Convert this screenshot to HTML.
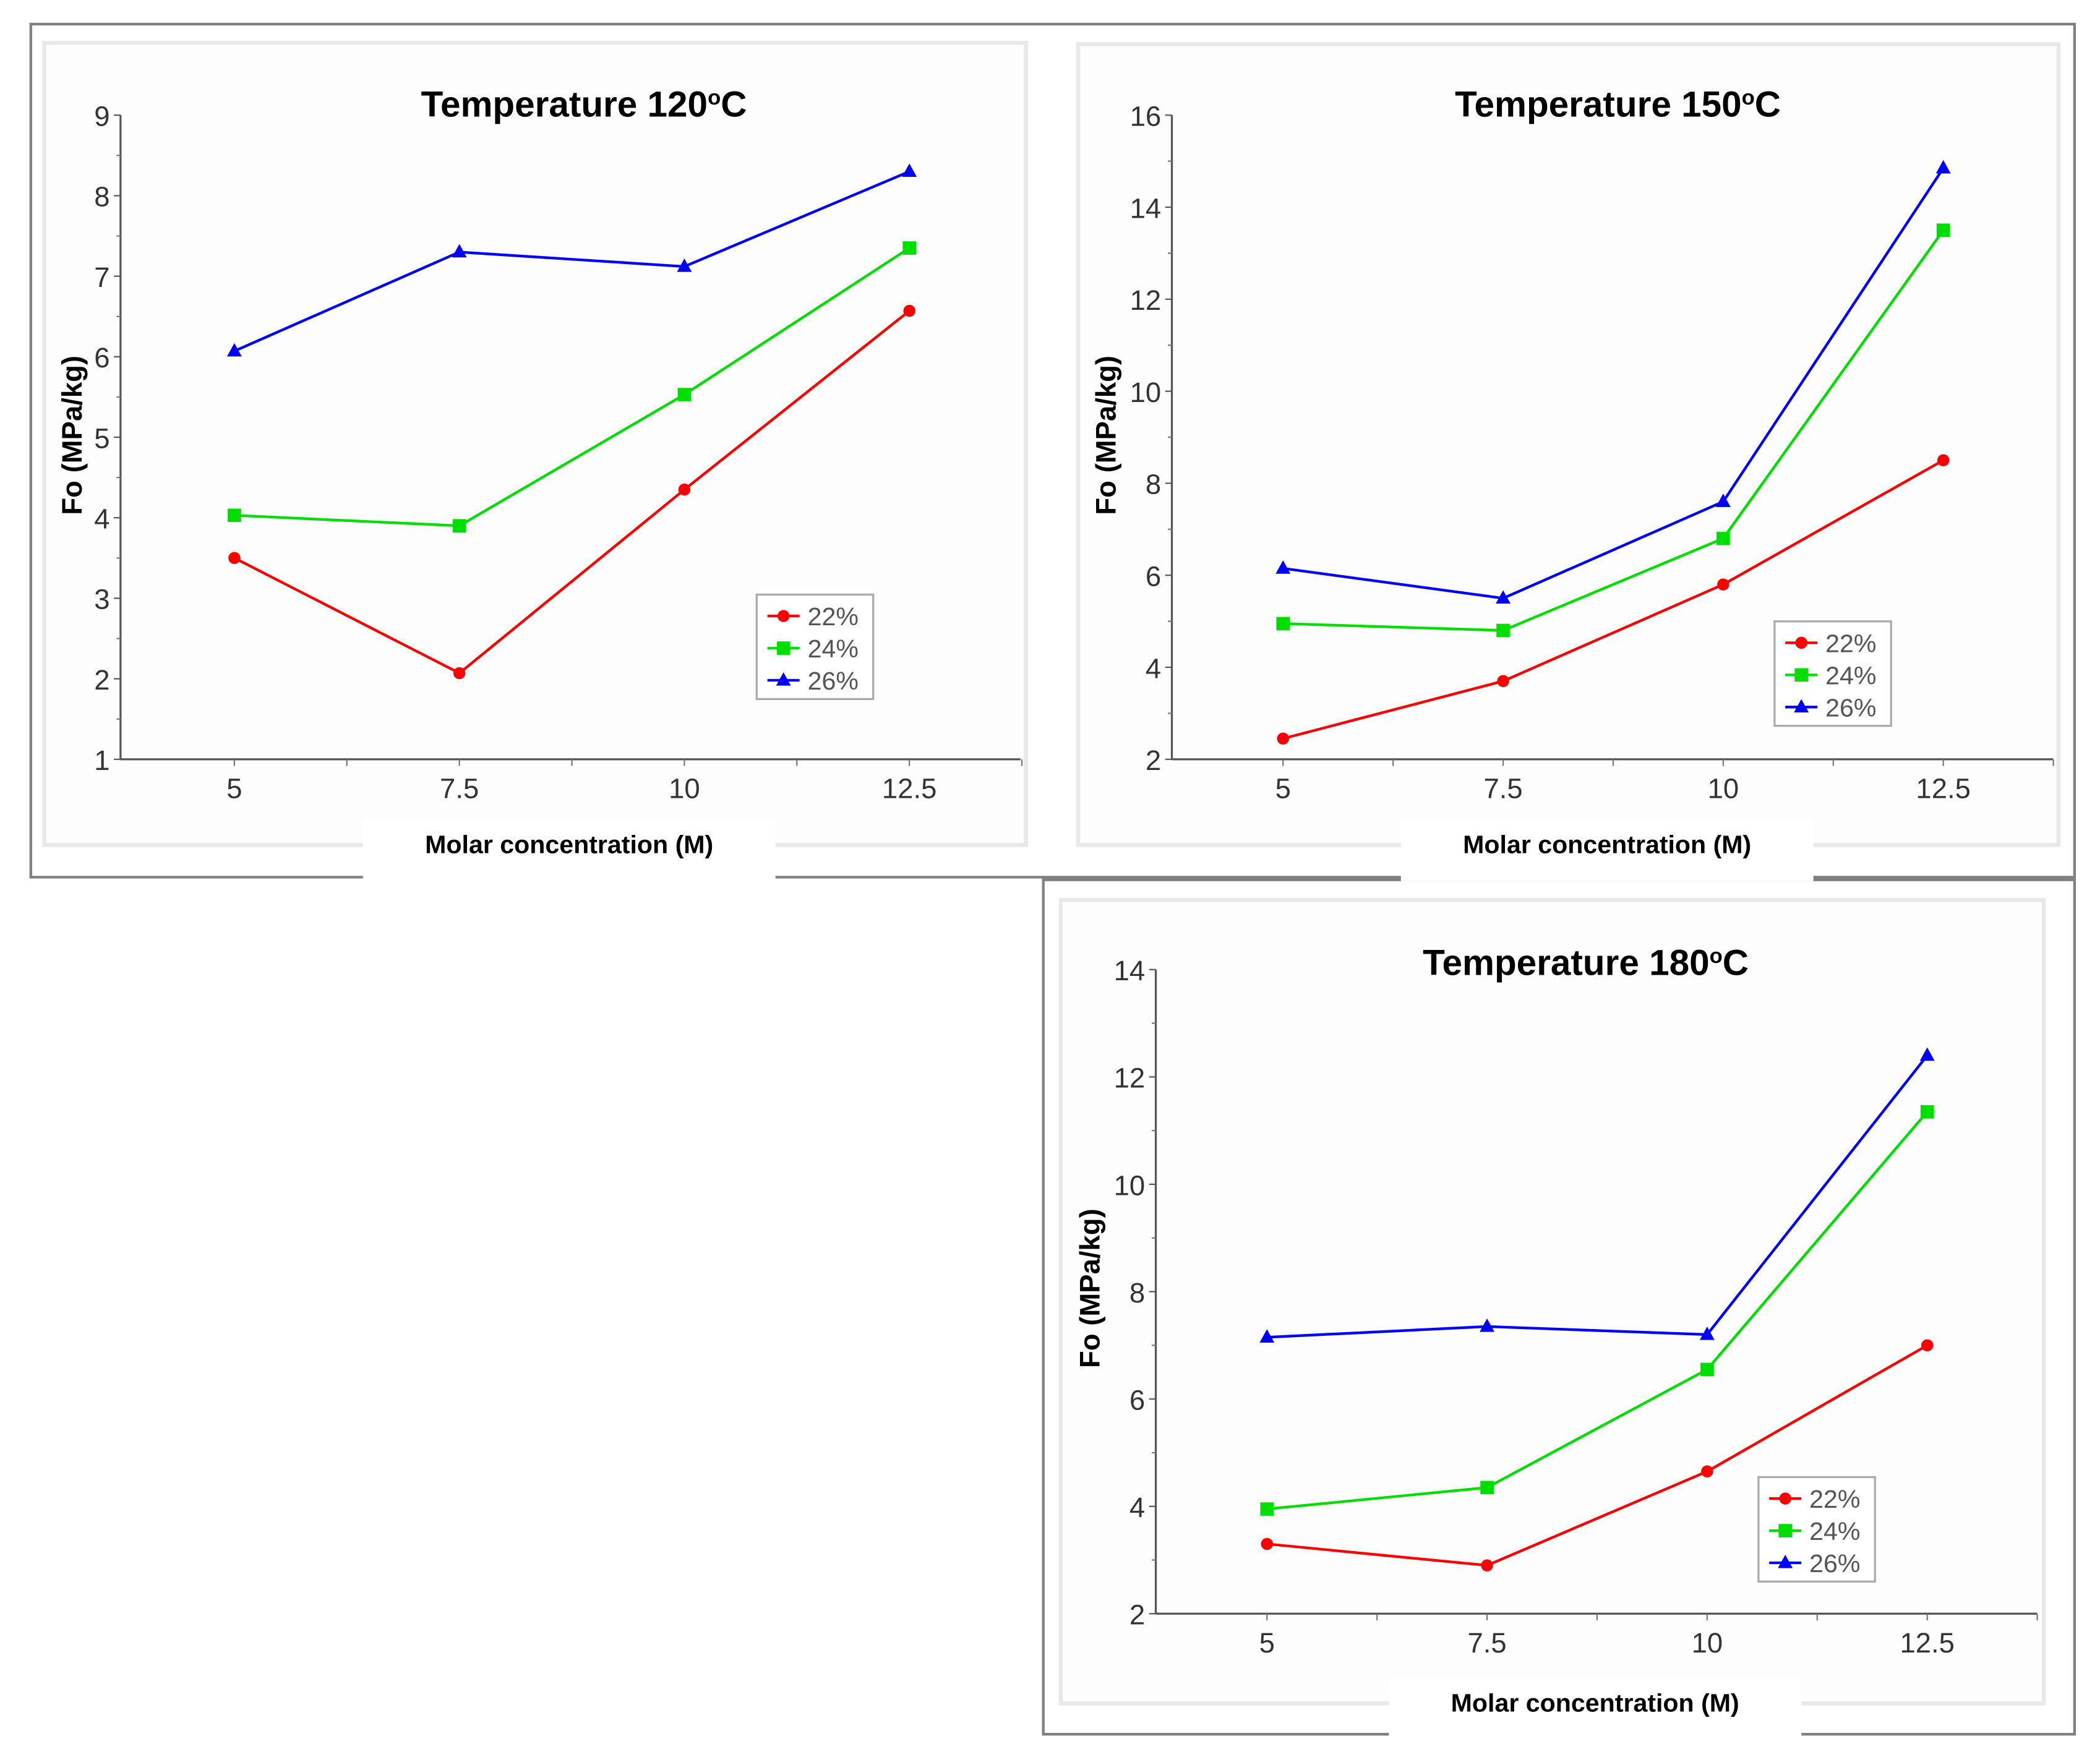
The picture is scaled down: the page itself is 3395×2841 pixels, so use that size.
<!DOCTYPE html>
<html><head><meta charset="utf-8"><style>
html,body{margin:0;padding:0;background:#fff;}
svg{display:block;}
text{font-family:"Liberation Sans",sans-serif;}
</style></head><body>
<svg id="fig" width="3395" height="2841" viewBox="0 0 1568 1312" preserveAspectRatio="none" xmlns="http://www.w3.org/2000/svg">
<rect x="0" y="0" width="1568" height="1312" fill="#fff"/>
<rect x="23" y="18" width="1526" height="637" fill="#fff" stroke="#808080" stroke-width="2"/>
<rect x="779" y="657" width="770" height="638" fill="#fff" stroke="#808080" stroke-width="2"/>
<g id="charts"></g>
</svg>
<script>
const categories = [5, 7.5, 10, 12.5];
const seriesNames = ['22%', '24%', '26%'];
const t120_22 = [3.5, 2.07, 4.35, 6.57];
const t120_24 = [4.03, 3.9, 5.53, 7.35];
const t120_26 = [6.07, 7.3, 7.12, 8.3];
const t150_22 = [2.45, 3.7, 5.8, 8.5];
const t150_24 = [4.95, 4.8, 6.8, 13.5];
const t150_26 = [6.15, 5.5, 7.6, 14.85];
const t180_22 = [3.3, 2.9, 4.65, 7.0];
const t180_24 = [3.95, 4.35, 6.55, 11.35];
const t180_26 = [7.15, 7.35, 7.2, 12.4];
const yTicks120 = [1, 2, 3, 4, 5, 6, 7, 8, 9];
const yTicks150 = [2, 4, 6, 8, 10, 12, 14, 16];
const yTicks180 = [2, 4, 6, 8, 10, 12, 14];
const xTickLabels = ['5', '7.5', '10', '12.5'];

const NS = 'http://www.w3.org/2000/svg';
const root = document.getElementById('charts');
const colors = ['#ff0000', '#00dd00', '#0000ff'];
function mk(tag, attrs, parent) {
  const e = document.createElementNS(NS, tag);
  for (const k in attrs) e.setAttribute(k, attrs[k]);
  (parent || root).appendChild(e);
  return e;
}
function marker(g, kind, x, y, c) {
  let m;
  if (kind === 0) m = mk('circle', {cx: x, cy: y, r: 4.5, fill: c}, g);
  else if (kind === 1) m = mk('rect', {x: x - 5, y: y - 5, width: 10, height: 10, fill: c}, g);
  else m = mk('polygon', {points: `${x},${y-6} ${x+5.5},${y+4} ${x-5.5},${y+4}`, fill: c}, g);
  
  
}
function chart(p) {
  const g = mk('g', {});
  
  
  const bg = mk('rect', {x: p.bx, y: p.by, width: p.bw, height: p.bh, fill: '#fdfdfd', stroke: '#e8e8e8', 'stroke-width': 3}, g);
  
  
  const gap = mk('rect', {x: p.gx, y: p.gy, width: 308, height: 46, fill: '#fff'}, g);
  
  
  const ymin = p.yt[0], ymax = p.yt[p.yt.length - 1];
  const sx = v => p.x5 + (v - 5) / 7.5 * (p.x125 - p.x5);
  const sy = v => p.y0 - (v - ymin) / (ymax - ymin) * (p.y0 - p.y1);
  const ax = mk('line', {x1: p.ax, y1: p.y1, x2: p.ax, y2: p.y0, stroke: '#555', 'stroke-width': 1.5}, g);
  
  
  const xa = mk('line', {x1: p.ax, y1: p.y0, x2: p.xend, y2: p.y0, stroke: '#555', 'stroke-width': 1.5}, g);
  
  
  p.yt.forEach((v, i) => {
    const y = sy(v);
    mk('line', {x1: p.ax - 5, y1: y, x2: p.ax, y2: y, stroke: '#555'}, g);
    if (i < p.yt.length - 1) { const ym = (y + sy(p.yt[i + 1])) / 2; mk('line', {x1: p.ax - 3, y1: ym, x2: p.ax, y2: ym, stroke: '#777'}, g); }
    const t = mk('text', {x: p.ax - 8, y: y + 8, 'text-anchor': 'end', 'font-size': 21, fill: '#333'}, g);
    t.textContent = v;
    
    
  });
  categories.forEach((c, i) => {
    const x = sx(c);
    mk('line', {x1: x, y1: p.y0, x2: x, y2: p.y0 + 5, stroke: '#777'}, g);
    const xm = sx(c + 1.25);
    mk('line', {x1: xm, y1: p.y0, x2: xm, y2: p.y0 + 5, stroke: '#777'}, g);
    const t = mk('text', {x: x, y: p.y0 + 29, 'text-anchor': 'middle', 'font-size': 21, fill: '#333'}, g);
    t.textContent = xTickLabels[i];
    
    
  });
  p.series.forEach((s, k) => {
    const pl = mk('polyline', {points: s.map((v, i) => sx(categories[i]) + ',' + sy(v)).join(' '), fill: 'none', stroke: colors[k], 'stroke-width': 2}, g);
    
    
    s.forEach((v, i) => marker(g, k, sx(categories[i]), sy(v), colors[k]));
  });
  const title = mk('text', {x: p.tx, y: p.ty, 'text-anchor': 'middle', 'font-size': 27, 'font-weight': 'bold', fill: '#000'}, g);
  title.textContent = 'Temperature ' + p.temp;
  const sup = mk('tspan', {'font-size': 16, dy: -9}, title);
  sup.textContent = 'o';
  const cc = mk('tspan', {dy: 9}, title);
  cc.textContent = 'C';
  
  
  const yt = mk('text', {x: 0, y: 0, transform: `translate(${p.ytx},${p.yty}) rotate(-90)`, 'text-anchor': 'middle', 'font-size': 21, 'font-weight': 'bold', fill: '#000'}, g);
  yt.textContent = 'Fo (MPa/kg)';
  
  
  const xt = mk('text', {x: p.gx + 154, y: p.gy + 25, 'text-anchor': 'middle', 'font-size': 19, 'font-weight': 'bold', fill: '#000'}, g);
  xt.textContent = 'Molar concentration (M)';
  
  
  const lg = mk('g', {}, g);
  
  
  mk('rect', {x: p.lx, y: p.ly, width: 87, height: 78, fill: '#fff', stroke: '#aaa', 'stroke-width': 1.5}, lg);
  seriesNames.forEach((n, k) => {
    const y = p.ly + 16 + k * 24;
    mk('line', {x1: p.lx + 8, y1: y, x2: p.lx + 32, y2: y, stroke: colors[k], 'stroke-width': 2}, lg);
    marker(lg, k, p.lx + 20, y, colors[k]);
    const t = mk('text', {x: p.lx + 38, y: y + 7, 'font-size': 19, fill: '#555'}, lg);
    t.textContent = n;
    
    
  });
}
chart({name: 'chart-120c', temp: '120', bx: 33, by: 32, bw: 733, bh: 599, gx: 271, gy: 612,
  ax: 90, y0: 567, y1: 86, x5: 175, x125: 679, xend: 762, yt: yTicks120,
  series: [t120_22, t120_24, t120_26], tx: 436, ty: 87, ytx: 61, yty: 325, lx: 565, ly: 444});
chart({name: 'chart-150c', temp: '150', bx: 805, by: 33, bw: 732, bh: 598, gx: 1046, gy: 612,
  ax: 875, y0: 567, y1: 86, x5: 958, x125: 1451, xend: 1533, yt: yTicks150,
  series: [t150_22, t150_24, t150_26], tx: 1208, ty: 87, ytx: 833, yty: 325, lx: 1325, ly: 464});
chart({name: 'chart-180c', temp: '180', bx: 792, by: 672, bw: 734, bh: 600, gx: 1037, gy: 1253,
  ax: 863, y0: 1205, y1: 724, x5: 946, x125: 1439, xend: 1521, yt: yTicks180,
  series: [t180_22, t180_24, t180_26], tx: 1184, ty: 728, ytx: 821, yty: 962, lx: 1313, ly: 1103});
</script>
</body></html>
